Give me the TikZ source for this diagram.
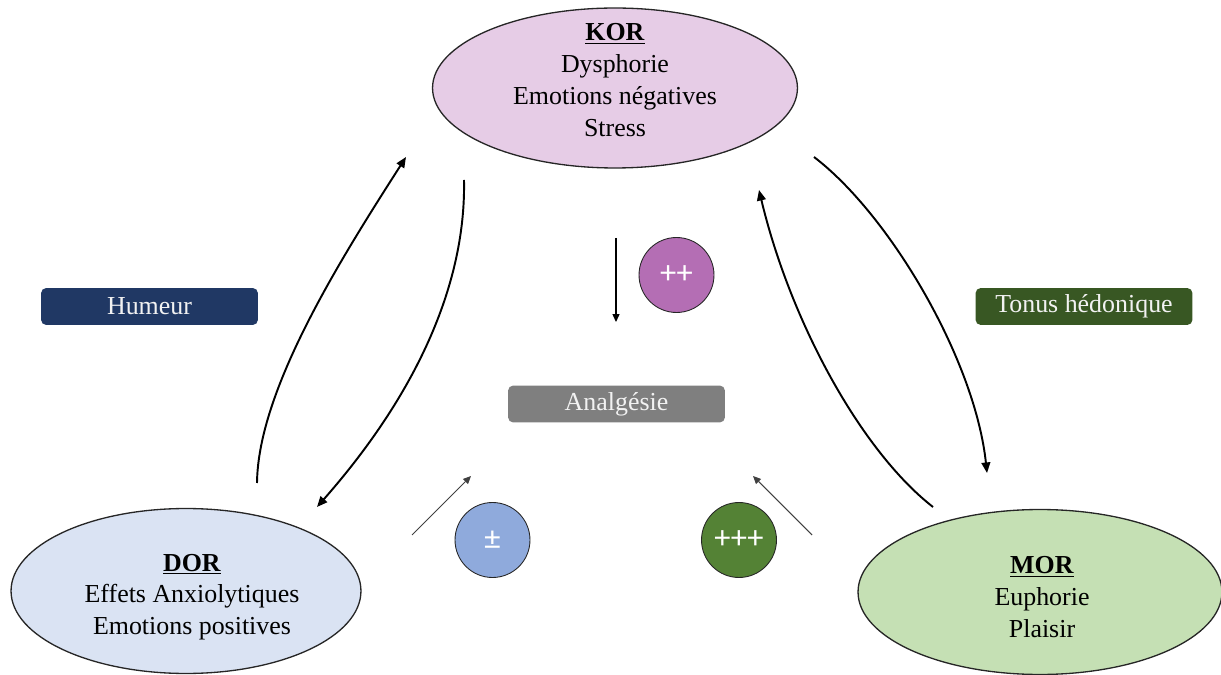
\documentclass[tikz,border=0pt]{standalone}
\usepackage{fontspec}
\setmainfont{Liberation Serif}
\newfontfamily\calib{Carlito}
\usetikzlibrary{shapes.geometric,arrows.meta}
\definecolor{korfill}{HTML}{E6CCE6}
\definecolor{dorfill}{HTML}{DAE3F3}
\definecolor{morfill}{HTML}{C5E0B4}
\definecolor{humcol}{HTML}{203864}
\definecolor{toncol}{HTML}{385723}
\definecolor{anacol}{HTML}{7F7F7F}
\definecolor{ppcol}{HTML}{B46EB4}
\definecolor{pmcol}{HTML}{8FAADC}
\definecolor{pppcol}{HTML}{548235}
\definecolor{edgecol}{HTML}{262626}
\tikzset{
  receptor/.style={ellipse, draw=edgecol, line width=0.75pt, inner sep=0pt},
  rtext/.style={align=center, font=\fontsize{14.75}{18.1}\selectfont, inner sep=0pt},
  tagbox/.style={rectangle, rounded corners=3pt, draw=none, minimum width=4.34cm, minimum height=0.74cm, text=white!95!black, font=\fontsize{14.75}{17}\selectfont, inner sep=0pt},
  level/.style={circle, draw=edgecol, line width=0.5pt, minimum size=1.5cm, inner sep=0pt, text=white, font=\calib\fontsize{18.5}{20}\selectfont},
  bigarrow/.style={line width=1.1pt, -{Triangle[length=6pt,width=5pt]}},
  thinarrow/.style={line width=0.6pt, -{Triangle[length=4.5pt,width=4pt]}},
}
\begin{document}
\begin{tikzpicture}[x=0.02cm, y=-0.02cm]
\useasboundingbox (0,0) rectangle (1221,675);
% receptors
\node[receptor, fill=korfill, minimum width=7.3cm, minimum height=3.2cm] (kor) at (615,88) {};
\node[rtext] (kortext) at (615,80) {\underline{\textbf{KOR}}\\Dysphorie\\Emotions négatives\\Stress};
\node[receptor, fill=dorfill, minimum width=7.0cm, minimum height=3.3cm] (dor) at (186,591) {};
\node[rtext] (dortext) at (192,597) {\underline{\textbf{DOR}}\\Effets Anxiolytiques\\Emotions positives};
\node[receptor, fill=morfill, minimum width=7.28cm, minimum height=3.3cm] (mor) at (1040,592) {};
\node[rtext] (mortext) at (1042,597) {\underline{\textbf{MOR}}\\Euphorie\\Plaisir};
% tags
\node[tagbox, fill=humcol] (humeur) at (149.5,306.5) {Humeur};
\node[tagbox, fill=toncol] (tonus) at (1084,306.5) {Tonus hédonique};
\node[tagbox, fill=anacol] (analg) at (616.5,404) {Analgésie};
% level circles
\node[level, fill=ppcol] (pp) at (676.5,275) {++};
\node[level, fill=pmcol] (pm) at (492.5,540) {±};
\node[level, fill=pppcol] (ppp) at (739,540) {+++};
% free ends of connectors
\coordinate (l1s) at (257,483);
\coordinate (l1e) at (406,157);
\coordinate (l2s) at (464,180);
\coordinate (l2e) at (317,507);
\coordinate (r1s) at (814,157);
\coordinate (r1e) at (987,473);
\coordinate (r2s) at (933,507);
\coordinate (r2e) at (759,190);
\coordinate (vs) at (616,238);
\coordinate (ve) at (616,322);
\coordinate (ds) at (412,535);
\coordinate (de) at (471,476);
\coordinate (ms) at (812,535);
\coordinate (me) at (753,476);
% curved connectors
\draw[bigarrow] (l1s) .. controls (258,390) and (340,260) .. (l1e);
\draw[bigarrow] (l2s) .. controls (466,280) and (420,390) .. (l2e);
\draw[bigarrow] (r1s) .. controls (890,215) and (975,360) .. (r1e);
\draw[bigarrow] (r2s) .. controls (860,450) and (790,320) .. (r2e);
% straight thin connectors
\draw[thinarrow, black] (vs) -- (ve);
\draw[thinarrow, black!75] (ds) -- (de);
\draw[thinarrow, black!75] (ms) -- (me);
\end{tikzpicture}
\end{document}
